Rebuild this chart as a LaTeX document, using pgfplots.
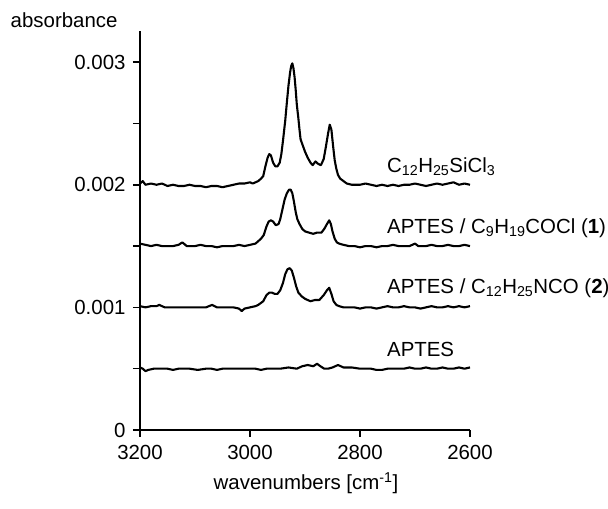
\documentclass[border=0pt]{standalone}
\usepackage{pgfplots}
\pgfplotsset{compat=1.18}
\usepackage{fontspec}
\setmainfont{Liberation Sans}

% spectra: wavenumber [cm^-1], absorbance
\pgfplotstableread{
w a
3200 0.00201
3195 0.00203
3190 0.00200
3180 0.00201
3170 0.00200
3160 0.00201
3150 0.00199
3140 0.00200
3130 0.00199
3120 0.00199
3110 0.00200
3100 0.00199
3090 0.00199
3080 0.00198
3070 0.00199
3060 0.00199
3050 0.00198
3040 0.00199
3030 0.00200
3020 0.00201
3010 0.00201
3000 0.00202
2995 0.00201
2990 0.00202
2985 0.00203
2980 0.00205
2976 0.00207
2972 0.00215
2968 0.00222
2965 0.00225
2962 0.00224
2958 0.00218
2954 0.00215
2950 0.00215
2946 0.00218
2943 0.00225
2940 0.00236
2936 0.00252
2933 0.00267
2930 0.00281
2927 0.00292
2925 0.00297
2923 0.00299
2921 0.00295
2919 0.00288
2917 0.00278
2915 0.00266
2912 0.00254
2910 0.00245
2908 0.00237
2904 0.00232
2900 0.00227
2895 0.00222
2890 0.00218
2886 0.00216
2881 0.00219
2876 0.00217
2871 0.00216
2866 0.00221
2862 0.00231
2858 0.00242
2855 0.00249
2852 0.00245
2849 0.00232
2846 0.00220
2843 0.00213
2840 0.00208
2836 0.00205
2830 0.00203
2824 0.00201
2815 0.00200
2800 0.00200
2790 0.00201
2780 0.00200
2770 0.00199
2760 0.00200
2750 0.00199
2740 0.00200
2730 0.00199
2720 0.00200
2710 0.00200
2700 0.00201
2690 0.00200
2680 0.00199
2670 0.00200
2660 0.00201
2650 0.00200
2640 0.00201
2630 0.00202
2620 0.00200
2610 0.00201
2600 0.00200
}\silane

\pgfplotstableread{
w a
3200 0.00152
3190 0.00151
3180 0.00150
3170 0.00151
3160 0.00150
3150 0.00150
3140 0.00150
3130 0.00151
3123 0.00153
3115 0.00150
3100 0.00150
3090 0.00151
3080 0.00150
3070 0.00150
3060 0.00149
3050 0.00150
3040 0.00150
3030 0.00150
3020 0.00151
3010 0.00150
3000 0.00151
2990 0.00152
2985 0.00154
2980 0.00156
2975 0.00159
2970 0.00166
2966 0.00170
2962 0.00171
2958 0.00170
2953 0.00167
2948 0.00168
2945 0.00172
2941 0.00180
2937 0.00188
2933 0.00193
2929 0.00196
2926 0.00196
2923 0.00193
2920 0.00186
2917 0.00178
2914 0.00172
2910 0.00168
2905 0.00164
2900 0.00162
2893 0.00161
2885 0.00160
2878 0.00161
2870 0.00161
2865 0.00164
2860 0.00168
2856 0.00171
2853 0.00168
2850 0.00162
2846 0.00156
2842 0.00153
2838 0.00152
2830 0.00151
2820 0.00150
2810 0.00150
2800 0.00149
2790 0.00150
2780 0.00150
2770 0.00149
2760 0.00150
2750 0.00150
2740 0.00151
2730 0.00150
2720 0.00150
2710 0.00150
2700 0.00152
2694 0.00150
2680 0.00150
2670 0.00151
2660 0.00150
2650 0.00150
2640 0.00151
2630 0.00150
2620 0.00150
2610 0.00151
2600 0.00150
}\cocl

\pgfplotstableread{
w a
3200 0.00101
3190 0.00100
3180 0.00101
3170 0.00101
3165 0.00102
3155 0.00100
3140 0.00100
3130 0.00100
3120 0.00100
3110 0.00100
3100 0.00100
3090 0.00100
3080 0.00100
3069 0.00102
3060 0.00100
3050 0.00100
3040 0.00100
3030 0.00100
3020 0.00099
3015 0.00097
3010 0.00099
3000 0.00100
2990 0.00101
2985 0.00102
2976 0.00105
2970 0.00110
2965 0.00112
2960 0.00112
2955 0.00111
2950 0.00111
2945 0.00114
2940 0.00120
2936 0.00127
2932 0.00131
2928 0.00132
2924 0.00130
2920 0.00124
2916 0.00117
2912 0.00112
2906 0.00109
2900 0.00107
2890 0.00105
2882 0.00106
2874 0.00106
2866 0.00110
2860 0.00114
2856 0.00116
2852 0.00111
2848 0.00105
2843 0.00102
2838 0.00101
2830 0.00100
2820 0.00100
2810 0.00100
2800 0.00099
2790 0.00100
2780 0.00100
2770 0.00099
2760 0.00100
2750 0.00101
2740 0.00100
2730 0.00100
2720 0.00101
2710 0.00100
2700 0.00100
2690 0.00099
2680 0.00100
2670 0.00101
2660 0.00100
2650 0.00100
2640 0.00101
2630 0.00100
2620 0.00101
2610 0.00100
2600 0.00101
}\nco

\pgfplotstableread{
w a
3200 0.00051
3195 0.00050
3190 0.00048
3185 0.00049
3175 0.00050
3160 0.00050
3150 0.00050
3140 0.00049
3130 0.00050
3120 0.00050
3110 0.00050
3095 0.00049
3080 0.00050
3070 0.00050
3060 0.00049
3050 0.00050
3040 0.00050
3030 0.00050
3020 0.00050
3010 0.00050
3000 0.00050
2990 0.00050
2980 0.00049
2970 0.00050
2960 0.00050
2945 0.00050
2930 0.00051
2915 0.00050
2905 0.00052
2895 0.00053
2885 0.00052
2878 0.00054
2872 0.00052
2865 0.00050
2858 0.00050
2850 0.00051
2840 0.00053
2830 0.00051
2815 0.00051
2800 0.00050
2790 0.00050
2780 0.00050
2770 0.00049
2760 0.00049
2750 0.00050
2740 0.00050
2730 0.00050
2720 0.00050
2710 0.00051
2700 0.00050
2690 0.00050
2680 0.00051
2670 0.00050
2660 0.00050
2650 0.00051
2640 0.00050
2630 0.00050
2620 0.00051
2610 0.00050
2600 0.00051
}\aptes

\begin{document}
\begin{tikzpicture}[x=1bp,y=1bp]
\path[use as bounding box] (0,0) rectangle (608,509);
\begin{axis}[
    at={(140bp,79bp)}, anchor=south west,
    scale only axis,
    width=330bp, height=398.5bp,
    xmin=2600, xmax=3200, x dir=reverse,
    ymin=0, ymax=0.00325,
    axis x line*=bottom, axis y line*=left,
    axis line style={line width=2bp, -},
    xtick={2600,2800,3000,3200},
    xticklabels={2600,2800,3000,3200},
    ytick={0,0.0005,0.001,0.0015,0.002,0.0025,0.003},
    yticklabels={0,,0.001,,0.002,,0.003},
    scaled y ticks=false,
    xtick align=outside, ytick align=outside,
    major tick length=7bp,
    tick style={line width=1.6bp, black},
    font=\fontsize{20.5}{24}\selectfont,
    tick label style={font=\fontsize{20.5}{24}\selectfont},
    yticklabel style={xshift=-4bp},
    xticklabel style={yshift=-5bp},
    xlabel={wavenumbers [cm\textsuperscript{-1}]},
    xlabel style={at={(axis description cs:0.503,-0.133)}, anchor=center},
    ylabel={absorbance},
    ylabel style={at={(axis description cs:-0.230,1.029)}, rotate=-90, anchor=center},
    clip=false,
  ]
  \addplot[black, line width=2.1bp, line join=round] table[x=w, y=a] {\silane};
  \addplot[black, line width=2.1bp, line join=round] table[x=w, y=a] {\cocl};
  \addplot[black, line width=2.1bp, line join=round] table[x=w, y=a] {\nco};
  \addplot[black, line width=2.1bp, line join=round] table[x=w, y=a] {\aptes};

  \node[anchor=west, inner sep=0pt] at (axis cs:2751,0.002145) {C\textsubscript{12}H\textsubscript{25}SiCl\textsubscript{3}};
  \node[anchor=west, inner sep=0pt] at (axis cs:2751,0.001648) {APTES / C\textsubscript{9}H\textsubscript{19}COCl (\textbf{1})};
  \node[anchor=west, inner sep=0pt] at (axis cs:2751,0.001158) {APTES / C\textsubscript{12}H\textsubscript{25}NCO (\textbf{2})};
  \node[anchor=west, inner sep=0pt] at (axis cs:2751,0.000653) {APTES};
\end{axis}
\end{tikzpicture}
\end{document}
